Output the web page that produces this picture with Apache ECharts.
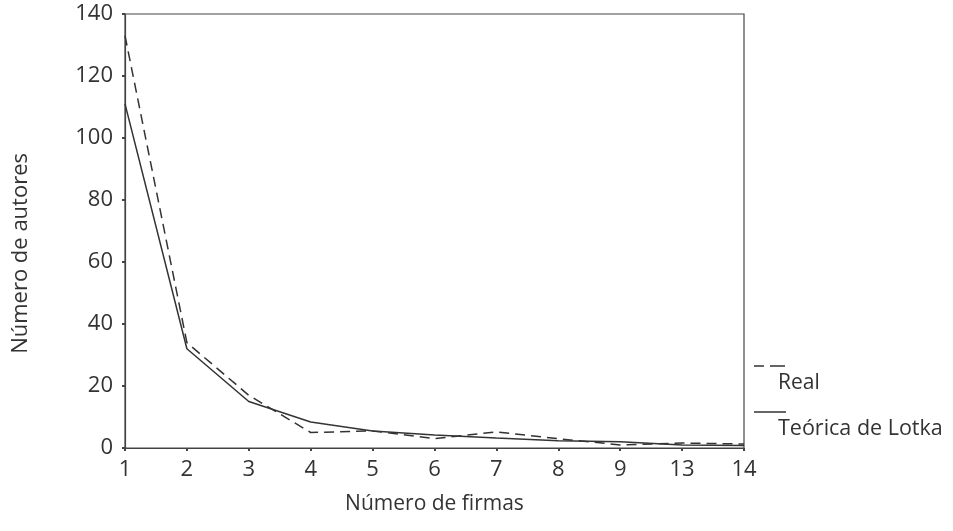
<!DOCTYPE html>
<html><head><meta charset="utf-8">
<script src="https://cdn.jsdelivr.net/npm/echarts@6/dist/echarts.min.js"></script>
<style>html,body{margin:0;padding:0;background:#fff}#c{width:953px;height:531px}</style>
</head><body><div id="c"></div>
<script>
const categories = ['1','2','3','4','5','6','7','8','9','13','14'];
const realValues = [133, 34, 17, 5, 5.5, 3, 5.2, 3, 1, 1.6, 1.3];
const lotkaValues = [111, 32, 15, 8.4, 5.5, 4.2, 3.2, 2.3, 2, 1, 0.8];
const yTicks = [0, 20, 40, 60, 80, 100, 120, 140];

const FONT = 'Open Sans';
const INK = '#333';
const chart = echarts.init(document.getElementById('c'));
chart.setOption({
  backgroundColor: '#fff',
  animation: false,
  grid: { left: 125, right: 209, top: 14, bottom: 83, show: true, borderColor: '#444', borderWidth: 1.2 },
  xAxis: {
    type: 'category', data: categories, boundaryGap: false,
    name: 'Número de firmas', nameLocation: 'middle', nameGap: 46,
    nameTextStyle: { fontFamily: FONT, fontSize: 21, color: INK },
    axisLine: { lineStyle: { color: '#444', width: 1.2 } },
    axisTick: { show: true, length: 3, alignWithLabel: true, lineStyle: { color: '#444', width: 2 } },
    axisLabel: { fontFamily: FONT, fontSize: 22, color: INK, margin: 11 },
    splitLine: { show: false }
  },
  yAxis: {
    type: 'value', min: 0, max: 140, interval: 20,
    axisLine: { show: true, lineStyle: { color: '#444', width: 1.2 } },
    axisTick: { show: true, length: 3, lineStyle: { color: '#444', width: 2 } },
    axisLabel: { fontFamily: FONT, fontSize: 22, color: INK, margin: 12,
      formatter: v => yTicks.includes(v) ? String(v) : '' },
    splitLine: { show: false }
  },
  series: [
    { name: 'Real', type: 'line', data: realValues, symbol: 'none',
      lineStyle: { color: '#333', width: 1.5, type: [10, 6] } },
    { name: 'Teórica de Lotka', type: 'line', data: lotkaValues, symbol: 'none',
      lineStyle: { color: '#333', width: 1.5, type: 'solid' } }
  ],
  graphic: [
    { type: 'text', left: 10, top: 153, rotation: Math.PI / 2,
      style: { text: 'Número de autores', fontFamily: FONT, fontSize: 22, fill: INK } },
    { type: 'line', shape: { x1: 754, y1: 366, x2: 764, y2: 366 }, style: { stroke: '#333', lineWidth: 1.5 } },
    { type: 'line', shape: { x1: 770, y1: 366, x2: 785, y2: 366 }, style: { stroke: '#333', lineWidth: 1.5 } },
    { type: 'text', left: 778, top: 373, style: { text: 'Real', fontFamily: FONT, fontSize: 21, fill: INK } },
    { type: 'line', shape: { x1: 754, y1: 412, x2: 786, y2: 412 }, style: { stroke: '#333', lineWidth: 1.5 } },
    { type: 'text', left: 778, top: 418, style: { text: 'Teórica de Lotka', fontFamily: FONT, fontSize: 21.5, fill: INK } }
  ]
});
</script></body></html>
